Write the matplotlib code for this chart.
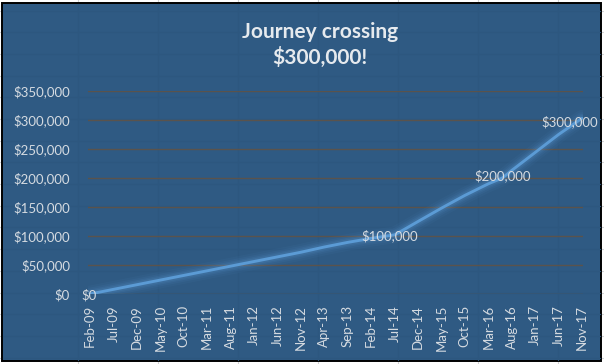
import matplotlib
matplotlib.use("Agg")
import matplotlib.pyplot as plt
import matplotlib.patches as mpatches
import pandas as pd

# ---- data ----
tick_labels = ["Feb-09", "Jul-09", "Dec-09", "May-10", "Oct-10", "Mar-11", "Aug-11",
               "Jan-12", "Jun-12", "Nov-12", "Apr-13", "Sep-13", "Feb-14", "Jul-14",
               "Dec-14", "May-15", "Oct-15", "Mar-16", "Aug-16", "Jan-17", "Jun-17", "Nov-17"]
point_months = ["Feb-09", "Jul-09", "Dec-09", "May-10", "Oct-10", "Mar-11", "Aug-11",
                "Jan-12", "Jun-12", "Nov-12", "Apr-13", "Sep-13", "Feb-14", "Jul-14",
                "Sep-14", "Dec-14", "May-15", "Oct-15", "Mar-16", "Jun-16", "Aug-16",
                "Jan-17", "Jun-17", "Nov-17"]
point_values = [0, 8000, 16000, 24000, 32000, 40000, 48000,
                56000, 64000, 72000, 81000, 89000, 96000, 102000,
                111000, 125000, 148000, 170000, 190000, 200000, 213000,
                244000, 275000, 303000]
milestone_months = ["Feb-09", "Jul-14", "Jun-16", "Nov-17"]
milestone_labels = ["$0", "$100,000", "$200,000", "$300,000"]
y_ticks = [0, 50000, 100000, 150000, 200000, 250000, 300000, 350000]
title = "Journey crossing\n$300,000!"

# monthly category axis
months = pd.date_range("2009-02-01", "2017-11-01", freq="MS")
categories = [d.strftime("%b-%y") for d in months]
cat_index = {c: i for i, c in enumerate(categories)}

W, H = 604, 364
fig = plt.figure(figsize=(W / 100, H / 100), dpi=100)
fig.patch.set_facecolor("white")
plt.rcParams["font.family"] = ["Lato", "DejaVu Sans"]

def fx(px):
    return px / W

def fy(py):
    return 1 - py / H

# spreadsheet cell grid behind the chart
for x in range(78, W, 80):
    fig.add_artist(plt.Line2D([fx(x), fx(x)], [0, 1], color="#d4d4d4", lw=0.8, zorder=0))
y = 10.5
while y < H:
    fig.add_artist(plt.Line2D([0, 1], [fy(y), fy(y)], color="#d4d4d4", lw=0.8, zorder=0))
    y += 21.7

# chart area
cl, ct, cr, cb = 2, 3, 601, 361
chart = mpatches.Rectangle((fx(cl), fy(cb)), fx(cr - cl), (cb - ct) / H,
                           transform=fig.transFigure, facecolor="#2f5a83",
                           edgecolor="black", lw=1.4, zorder=1)
fig.add_artist(chart)
# very faint cell lines showing through
for x in range(78, cr, 80):
    fig.add_artist(plt.Line2D([fx(x), fx(x)], [fy(cb - 1), fy(ct + 1)],
                              color="#2d577f", lw=0.8, zorder=1.5))
y = 10.5
while y < cb:
    if y > ct + 1:
        fig.add_artist(plt.Line2D([fx(cl + 1), fx(cr - 1)], [fy(y), fy(y)],
                                  color="#2d577f", lw=0.8, zorder=1.5))
    y += 21.7

# plot area
ax_l, ax_r, ax_t, ax_b = 88, 583, 91, 294
ax = fig.add_axes([fx(ax_l), fy(ax_b), fx(ax_r - ax_l), (ax_b - ax_t) / H], zorder=2)
ax.set_facecolor("none")
for s in ax.spines.values():
    s.set_visible(False)

xs = [cat_index[m] for m in point_months]
px_per_month = (582 - 90) / (len(categories) - 1)
ax.set_xlim(-(90 - ax_l) / px_per_month, len(categories) - 1 + (ax_r - 582) / px_per_month)
ax.set_ylim(0, 350000)

ax.set_yticks(y_ticks)
ax.set_yticklabels([f"${v:,.0f}" for v in y_ticks])
ax.yaxis.grid(True, color="#5a534c", lw=1.0)
ax.set_axisbelow(True)
ax.tick_params(axis="y", length=0, pad=13, labelsize=9.5, labelcolor="#d5dbe1")

ax.set_xticks([cat_index[t] for t in tick_labels])
ax.set_xticklabels(tick_labels, rotation=90)
ax.tick_params(axis="x", length=0, pad=8, labelsize=9.5, labelcolor="#d5dbe1")

# glow
line_color = "#5b9bd5"
for lw, a in [(12, 0.06), (9, 0.08), (6.5, 0.11), (4.5, 0.15)]:
    ax.plot(xs, point_values, color=line_color, lw=lw, alpha=a,
            solid_capstyle="round", solid_joinstyle="round", zorder=3)
ax.plot(xs, point_values, color=line_color, lw=2.1,
        solid_capstyle="round", solid_joinstyle="round", zorder=4)

# milestone data labels
val_by_month = dict(zip(point_months, point_values))
offsets = [(-1, -1), (-5, -1), (0, 2), (-12, -3)]
for m, lab, off in zip(milestone_months, milestone_labels, offsets):
    ax.annotate(lab, (cat_index[m], val_by_month[m]), xytext=off, textcoords="offset pixels",
                ha="center", va="center", fontsize=9.5, color="#d5dbe1", zorder=5,
                annotation_clip=False)

fig.text(fx(320), fy(45), title, ha="center", va="center", fontsize=15,
         fontweight="bold", color="#e6eaee", linespacing=1.3, zorder=6)

fig.savefig("out.png", dpi=100, facecolor=fig.get_facecolor())
